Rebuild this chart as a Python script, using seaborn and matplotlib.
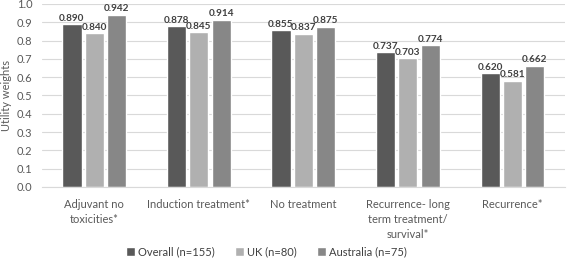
import pandas as pd
import numpy as np
import matplotlib.pyplot as plt
import seaborn as sns

states = ["Adjuvant no\ntoxicities*", "Induction treatment*", "No treatment",
          "Recurrence- long\nterm treatment/\nsurvival*", "Recurrence*"]
groups = ["Overall (n=155)", "UK (n=80)", "Australia (n=75)"]
overall = [0.890, 0.878, 0.855, 0.737, 0.620]
uk = [0.840, 0.845, 0.837, 0.703, 0.581]
australia = [0.942, 0.914, 0.875, 0.774, 0.662]
colors = ["#595959", "#b0b0b0", "#878787"]

df = pd.DataFrame({
    "state": states * 3,
    "group": [groups[0]] * 5 + [groups[1]] * 5 + [groups[2]] * 5,
    "value": overall + uk + australia,
})

sns.set_style("white")
plt.rcParams["font.family"] = ["Lato", "DejaVu Sans"]

fig = plt.figure(figsize=(5.67, 2.6), dpi=100)
ax = fig.add_axes([0.074, 0.281, 0.922, 0.704])
sns.barplot(data=df, x="state", y="value", hue="group", palette=colors,
            width=0.64, gap=0.14, ax=ax, legend=True)

for cont in ax.containers:
    ax.bar_label(cont, fmt="%.3f", fontsize=7.2, fontweight="bold",
                 color="#404040", padding=1)

ax.set_ylim(0, 1.0)
ax.set_yticks(np.arange(0, 1.01, 0.1))
ax.set_yticklabels([f"{v:.1f}" for v in np.arange(0, 1.01, 0.1)])
ax.yaxis.grid(True, color="#d9d9d9", lw=0.8)
ax.set_axisbelow(True)
ax.set_xlabel("")
ax.set_ylabel("Utility weights", fontsize=8, color="#595959", labelpad=3)
ax.tick_params(axis="both", length=0, labelsize=8, colors="#595959")
ax.tick_params(axis="x", pad=9)
ax.tick_params(axis="y", pad=7)
for s in ["top", "right", "left"]:
    ax.spines[s].set_visible(False)
ax.spines["bottom"].set_color("#d9d9d9")
ax.set_xlim(-0.5, 4.5)
for lbl in ax.get_xticklabels():
    lbl.set_linespacing(1.4)

ax.legend(loc="lower center", bbox_to_anchor=(0.43, -0.44), ncol=3,
          frameon=False, fontsize=8, handlelength=0.8, handleheight=0.8,
          handletextpad=0.3, columnspacing=1.8, labelcolor="#404040")

fig.savefig("out.png", dpi=100)
